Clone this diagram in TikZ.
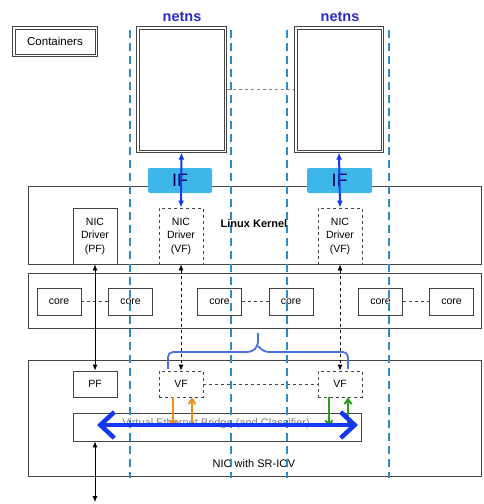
\documentclass[tikz,border=0pt]{standalone}
\usepackage{fontspec}
\setmainfont{Liberation Sans}
\usepackage{xcolor}
\usepackage{tikz}
\usetikzlibrary{positioning,arrows.meta}

\definecolor{ifblue}{HTML}{3DB7E9}
\definecolor{nsline}{HTML}{2D8CC4}
\definecolor{nsblue}{HTML}{2A2ACF}
\definecolor{braceblue}{HTML}{4C6FE0}
\definecolor{vebblue}{HTML}{1438F0}
\definecolor{vforange}{HTML}{F08C1E}
\definecolor{vfgreen}{HTML}{2E9A1E}
\definecolor{boxgray}{HTML}{444444}

\begin{document}
\begin{tikzpicture}[x=1pt,y=-1pt,
  box/.style={draw=boxgray,line width=0.8pt,fill=white,align=center,inner sep=0pt,font=\fontsize{10.5}{13.5}\selectfont},
  dbox/.style={box,dashed},
  ctbox/.style={draw=boxgray,line width=0.7pt,inner sep=0pt},
  layer/.style={draw=boxgray,line width=0.8pt},
  nsdash/.style={nsline,line width=2.4pt,dash pattern=on 8pt off 5pt},
  link/.style={boxgray,line width=0.8pt,dashed},
  blk/.style={{Latex[length=6pt,width=5pt]}-{Latex[length=6pt,width=5pt]},line width=0.8pt},
  vfarrow/.style={line width=2pt}]
  \useasboundingbox (0,0) rectangle (483,504);

  % Layers
  \draw[layer] (28,186) rectangle (481,264);
  \draw[layer] (28,273) rectangle (481,328);
  \draw[layer] (28,360) rectangle (481,476);
  \node[font=\fontsize{11}{13}\selectfont] (sriov) at (254,464) {NIC with SR-IOV};

  % Containers
  \node[ctbox,minimum width=80pt,minimum height=25pt,font=\fontsize{11.5}{13}\selectfont] (legend) at (55,41.5) {Containers};
  \node[ctbox,minimum width=85pt,minimum height=121pt] (ctA) at (181.5,89.5) {};
  \node[ctbox,minimum width=84pt,minimum height=121pt] (ctB) at (339,89.5) {};
  \foreach \c in {legend,ctA,ctB}
    \draw[boxgray,line width=0.7pt] ([shift={(-2.2pt,2.2pt)}]\c.north west) rectangle ([shift={(2.2pt,-2.2pt)}]\c.south east);
  \node[nsblue,font=\bfseries\fontsize{14.5}{16}\selectfont] (nsA) at (182,17) {netns};
  \node[nsblue,font=\bfseries\fontsize{14.5}{16}\selectfont] (nsB) at (340,17) {netns};
  \draw[link,gray] ([xshift=2.2pt]ctA.east) -- ([xshift=-2.2pt]ctB.west);

  % IF
  \node[fill=ifblue,rounded corners=2pt,minimum width=64pt,minimum height=25pt,font=\fontsize{18}{19}\selectfont,text=black!65!blue] (ifA) at (180,180.5) {IF};
  \node[fill=ifblue,rounded corners=2pt,minimum width=65pt,minimum height=25pt,font=\fontsize{18}{19}\selectfont,text=black!65!blue] (ifB) at (339.5,180.5) {IF};

  % Drivers
  \node[box,minimum width=44pt,minimum height=56pt] (drvPF) at (95,236) {NIC\\Driver\\(PF)};
  \node[dbox,minimum width=44pt,minimum height=56pt] (drvA) at (181,236) {NIC\\Driver\\(VF)};
  \node[dbox,minimum width=44pt,minimum height=56pt] (drvB) at (340,236) {NIC\\Driver\\(VF)};

  % Cores
  \foreach \n/\x in {1/59,2/130.5,3/219.5,4/291,5/380.5,6/451.5}
    \node[box,minimum width=44pt,minimum height=27pt] (core\n) at (\x,301.5) {core};
  \draw[link] (core1) -- (core2);
  \draw[link] (core3) -- (core4);
  \draw[link] (core5) -- (core6);

  % NIC functions
  \node[box,minimum width=44pt,minimum height=26pt] (pf) at (95,384) {PF};
  \node[dbox,minimum width=44pt,minimum height=26pt] (vfA) at (181,384) {VF};
  \node[dbox,minimum width=44pt,minimum height=26pt] (vfB) at (340,384) {VF};
  \draw[link] (vfA) -- (vfB);
  \node[box,minimum width=288pt,minimum height=28pt] (veb) at (217,427) {};
  \node[text=gray,font=\fontsize{11}{12}\selectfont] (vebtxt) at (216,424) {Virtual Ethernet Bridge (and Classifier)};
  \coordinate (wire) at (95,502);

  % netns boundaries
  \foreach \x in {130,231,287,389}
    \draw[nsdash] (\x,30) -- (\x,478);
  \node[font=\bfseries\fontsize{11}{13}\selectfont] (kernel) at (254,224) {Linux Kernel};

  % Paths
  \draw[blk] (drvPF.south) -- (pf.north);
  \draw[blk,dashed] (drvA.south) -- (vfA.north);
  \draw[blk,dashed] (drvB.south) -- (vfB.north);
  \draw[blk] (wire |- veb.south) -- (wire);
  \draw[{Latex[length=7pt,width=6pt]}-{Latex[length=7pt,width=6pt]},vebblue,line width=2pt] ([yshift=-2.2pt]ctA.south) -- (drvA.north);
  \draw[{Latex[length=7pt,width=6pt]}-{Latex[length=7pt,width=6pt]},vebblue,line width=2pt] ([yshift=-2.2pt]ctB.south) -- (drvB.north);

  % Brace over VFs
  \draw[braceblue,line width=1.8pt,rounded corners=5pt] (168,369) |- (252,352) -- (258,346) -- (258,333);
  \draw[braceblue,line width=1.8pt,rounded corners=5pt] (348,369) |- (264,352) -- (258,346);

  % VF traffic
  \draw[vfarrow,vforange,-{Straight Barb[length=5pt,width=7pt]}] ([xshift=-8pt]vfA.south) -- ([xshift=-8pt]vfA.south |- veb.center);
  \draw[vfarrow,vforange,{Straight Barb[length=5pt,width=7pt]}-] ([xshift=11pt]vfA.south) -- ([xshift=11pt]vfA.south |- veb.center);
  \draw[vfarrow,vfgreen,-{Straight Barb[length=5pt,width=7pt]}] ([xshift=-11pt]vfB.south) -- ([xshift=-11pt]vfB.south |- veb.center);
  \draw[vfarrow,vfgreen,{Straight Barb[length=5pt,width=7pt]}-] ([xshift=8pt]vfB.south) -- ([xshift=8pt]vfB.south |- veb.center);

  % Bridge
  \draw[{Straight Barb[length=14pt,width=26pt]}-{Straight Barb[length=14pt,width=26pt]},vebblue,line width=4.5pt] ([xshift=-120pt,yshift=2pt]veb.center) -- ([xshift=141pt,yshift=2pt]veb.center);
\end{tikzpicture}
\end{document}
